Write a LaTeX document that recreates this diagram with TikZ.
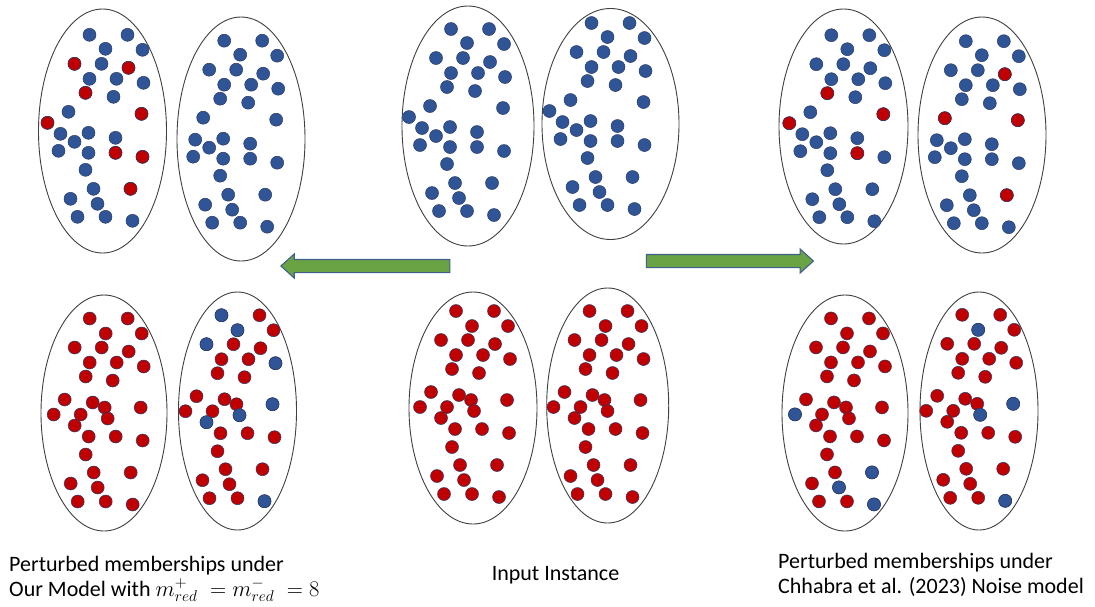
\documentclass[tikz,border=0pt]{standalone}
\usepackage{fontspec}
\setmainfont{Carlito}
\usetikzlibrary{shapes.geometric,shapes.arrows}

\definecolor{clblue}{HTML}{2F5597}
\definecolor{clred}{HTML}{C00000}
\definecolor{cldotline}{HTML}{2B3A67}
\definecolor{clgreen}{HTML}{6AA343}
\definecolor{clarrowline}{HTML}{41608F}

% dot layouts, offsets from the layout origin of one cluster
\newcommand{\clbluedots}{-17/-97,21/-97,-1/-83,36/-82,-32/-68,-5/-68,22/-64,-17/-53,10/-53,37/-49,-21/-39,7/-35,-38/-20,35/-18,-59/-9,-46/2,-18/1,9/6,-32/10,-48/19,-18/21,9/21,36/25,-21/38,-13/57,24/57,-36/67,-9/72,-29/85,-1/85,26/89}
\newcommand{\clreddots}{-17/-97,21/-97,-1/-82,35/-82,-32/-68,-5/-68,22/-64,-17/-53,10/-53,37/-49,-21/-39,6/-35,-42/-16,34/-8,-53/-1,-26/-1,-14/-13,-2/-8,1/3,-32/10,-18/21,9/21,36/25,-21/39,-13/57,24/57,-36/68,-9/72,-29/86,-1/86,26/89}

% #1 cluster name, #2 layout, #3 colour, #4 dot left out (0 = none)
\newcommand{\clfill}[4]{%
  \foreach \dx/\dy [count=\i] in #2 {
    \ifnum\i=#4\relax\else
      \node[cldot,fill=#3] (#1-\i) at (\dx,\dy) {};
    \fi
  }}
% #1 cluster name, #2 dots that change colour, #3 new colour
\newcommand{\clswap}[3]{%
  \foreach \j in {#2} {\node[cldot,fill=#3] (#1-s\j) at (#1-\j) {};}}

\tikzset{
  clcluster/.style={
    ellipse, draw=black!75, line width=0.9pt, inner sep=0pt
  },
  cldot/.style={
    circle, draw=cldotline, line width=0.5pt,
    minimum size=13pt, inner sep=0pt
  },
  clblock/.style={
    single arrow, draw=clarrowline, fill=clgreen, line width=1.1pt,
    inner xsep=0pt, inner ysep=6pt, minimum width=23pt,
    single arrow head extend=5.5pt, single arrow tip angle=84
  },
  clcaption/.style={font=\fontsize{22}{25}\selectfont,align=left,inner sep=0pt}
}

\begin{document}
\begin{tikzpicture}[x=1pt,y=-1pt]
\useasboundingbox[fill=white] (0,0) rectangle (1095,606);

% Left: perturbed memberships under our model
\node[clcluster,minimum width=128pt,minimum height=244pt] (lta) at (102.5,131) {};
\begin{scope}[shift={(106.5,131.8)}]
  \clfill{lta}{\clbluedots}{clblue}{0}
  \clswap{lta}{5,7,11,14,15,22,23,26}{clred}
\end{scope}
\node[clcluster,minimum width=128pt,minimum height=244pt] (ltb) at (241,139) {};
\begin{scope}[shift={(241.2,137.7)}]
  \clfill{ltb}{\clbluedots}{clblue}{15}
\end{scope}
\node[clcluster,minimum width=126pt,minimum height=236pt] (lba) at (104,413) {};
\begin{scope}[shift={(106.7,415.5)}]
  \clfill{lba}{\clreddots}{clred}{0}
\end{scope}
\node[clcluster,minimum width=118pt,minimum height=238pt] (lbb) at (237.5,411) {};
\begin{scope}[shift={(238.5,412.2)}]
  \clfill{lbb}{\clreddots}{clred}{0}
  \clswap{lbb}{1,3,5,10,14,19,20,31}{clblue}
\end{scope}

% Middle: input instance
\node[clcluster,minimum width=132pt,minimum height=240pt] (mta) at (468,126) {};
\begin{scope}[shift={(468,126)}]
  \clfill{mta}{\clbluedots}{clblue}{0}
\end{scope}
\node[clcluster,minimum width=137pt,minimum height=231pt] (mtb) at (610.5,124) {};
\begin{scope}[shift={(608.5,120)}]
  \clfill{mtb}{\clbluedots}{clblue}{0}
\end{scope}
\node[clcluster,minimum width=128pt,minimum height=232pt] (mba) at (473,408) {};
\begin{scope}[shift={(473,408)}]
  \clfill{mba}{\clreddots}{clred}{0}
\end{scope}
\node[clcluster,minimum width=122pt,minimum height=235pt] (mbb) at (607.7,405.5) {};
\begin{scope}[shift={(606.5,408)}]
  \clfill{mbb}{\clreddots}{clred}{0}
\end{scope}

% Right: perturbed memberships under the noise model
\node[clcluster,minimum width=129pt,minimum height=235pt] (rta) at (843.5,126.5) {};
\begin{scope}[shift={(848.3,132.2)}]
  \clfill{rta}{\clbluedots}{clblue}{0}
  \clswap{rta}{11,14,15,22}{clred}
\end{scope}
\node[clcluster,minimum width=128pt,minimum height=236pt] (rtb) at (982,135) {};
\begin{scope}[shift={(982.8,138.2)}]
  \clfill{rtb}{\clbluedots}{clblue}{15}
  \clswap{rtb}{7,13,14,26}{clred}
\end{scope}
\node[clcluster,minimum width=126pt,minimum height=236pt] (rba) at (845,413) {};
\begin{scope}[shift={(848,415.4)}]
  \clfill{rba}{\clreddots}{clred}{0}
  \clswap{rba}{15,26,28,31}{clblue}
\end{scope}
\node[clcluster,minimum width=118pt,minimum height=238pt] (rbb) at (979,411) {};
\begin{scope}[shift={(979.2,411.8)}]
  \clfill{rbb}{\clreddots}{clred}{0}
  \clswap{rbb}{3,14,19,31}{clblue}
\end{scope}

% block arrows
\node[clblock,minimum height=169pt,shape border rotate=180] (arrleft) at (369,266) {};
\node[clblock,minimum height=167pt] (arrright) at (726.3,261) {};

% captions (base = last line)
\node[clcaption,anchor=base west] (capleft) at (9,596.5)
  {Perturbed memberships under\\Our Model with \scalebox{1.08}{$m^{+}_{red}\;=m^{-}_{red}\;=8$}};
\node[clcaption,anchor=base] (capmid) at (555.5,580) {Input Instance};
\node[clcaption,anchor=base west] (capright) at (778,593.5)
  {Perturbed memberships under\\Chhabra et al. (2023) Noise model};
\end{tikzpicture}
\end{document}
